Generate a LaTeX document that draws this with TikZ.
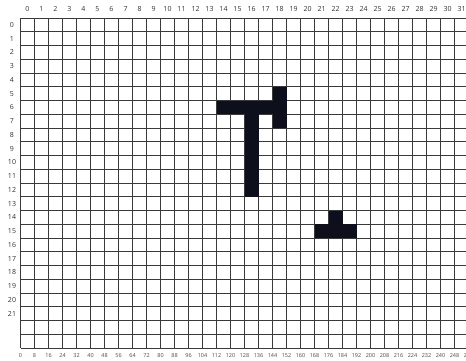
\documentclass[tikz,border=0pt]{standalone}
\usepackage{fontspec}
\setmainfont{Open Sans}
\definecolor{gridc}{HTML}{3A3A3A}
\definecolor{ink}{HTML}{0E0F1C}
\newcommand\cellrect[4]{\fill[ink] ({20.5+#1*14},{18+#2*13.75}) rectangle ({20.5+(#3+1)*14},{18+(#4+1)*13.75});}
\begin{document}
\begin{tikzpicture}[x=1pt,y=-1pt,
  gridline/.style={draw=gridc,line width=0.7pt},
  toplab/.style={font=\fontsize{7}{8}\selectfont,text=black!80,inner sep=0,anchor=base},
  rowlab/.style={font=\fontsize{7}{8}\selectfont,text=black!80,inner sep=0,anchor=base},
  botlab/.style={font=\fontsize{5.5}{6}\selectfont,text=black!70,inner sep=0,anchor=base}]
\useasboundingbox (0,0) rectangle (466,360);
\fill[white] (0,0) rectangle (466,360);
% grid
\begin{scope}
\clip (0,0) rectangle (466,360);
\foreach \i in {0,...,32} \draw[gridline] ({20.5+\i*14},18) -- ({20.5+\i*14},348);
\end{scope}
\foreach \j in {0,...,24} \draw[gridline] (20.5,{18+\j*13.75}) -- (466,{18+\j*13.75});
% filled cells: T shape
\cellrect{14}{6}{17}{6}
\cellrect{16}{6}{16}{12}
\cellrect{18}{5}{18}{7}
% small piece
\cellrect{21}{15}{23}{15}
\cellrect{22}{14}{22}{14}
% labels
\foreach \i in {0,...,31} \node[toplab] (col\i) at ({27.5+\i*14},11.5) {\i};
\foreach \j in {0,...,21} \node[rowlab] (row\j) at (12,{27.4+\j*13.75}) {\j};
\foreach \i [evaluate=\i as \v using int(8*\i)] in {0,...,32} \node[botlab] (bot\i) at ({20.5+\i*14},357) {\v};
\end{tikzpicture}
\end{document}
